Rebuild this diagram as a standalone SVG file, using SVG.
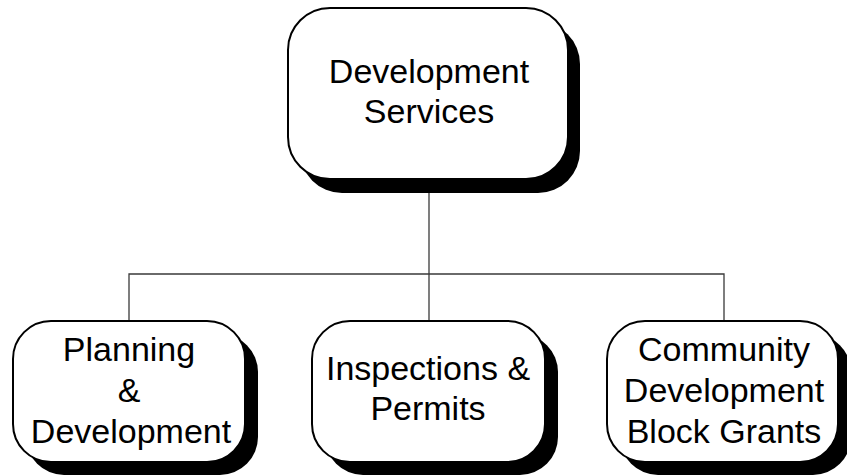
<svg xmlns="http://www.w3.org/2000/svg" width="847" height="476" viewBox="0 0 847 476">
<style>
.shadow{fill:#000}
.box{fill:#fff;stroke:#000;stroke-width:2}
.lbl{font-family:"Liberation Sans",Arial,sans-serif;font-size:34px;fill:#000;text-anchor:middle}
.conn{stroke:#3a3a3a;stroke-width:1.3;fill:none}
</style>
<rect width="847" height="476" fill="#fff"/>
<g id="connectors">
<path class="conn" d="M429,179 V274"/>
<path class="conn" d="M129,321 V274 H724 V321"/>
<path class="conn" d="M429,274 V321"/>
</g>
<g id="dev-services">
<rect class="shadow" x="300" y="22" width="280" height="171" rx="42"/>
<rect class="box" x="288" y="8" width="280" height="171" rx="42"/>
<text class="lbl" x="429" y="83">Development</text>
<text class="lbl" x="429" y="123">Services</text>
</g>
<g id="planning">
<rect class="shadow" x="26" y="334" width="232" height="141" rx="38"/>
<rect class="box" x="13" y="321" width="232" height="141" rx="38"/>
<text class="lbl" x="129" y="361">Planning</text>
<text class="lbl" x="129" y="402">&amp;</text>
<text class="lbl" x="131" y="443">Development</text>
</g>
<g id="inspections">
<rect class="shadow" x="325" y="334" width="233" height="141" rx="38"/>
<rect class="box" x="312" y="321" width="233" height="141" rx="38"/>
<text class="lbl" x="428" y="380">Inspections &amp;</text>
<text class="lbl" x="428" y="420">Permits</text>
</g>
<g id="cdbg">
<rect class="shadow" x="620" y="334" width="231" height="141" rx="38"/>
<rect class="box" x="607" y="321" width="231" height="141" rx="38"/>
<text class="lbl" x="724" y="361">Community</text>
<text class="lbl" x="724" y="402">Development</text>
<text class="lbl" x="724" y="443">Block Grants</text>
</g>
</svg>
